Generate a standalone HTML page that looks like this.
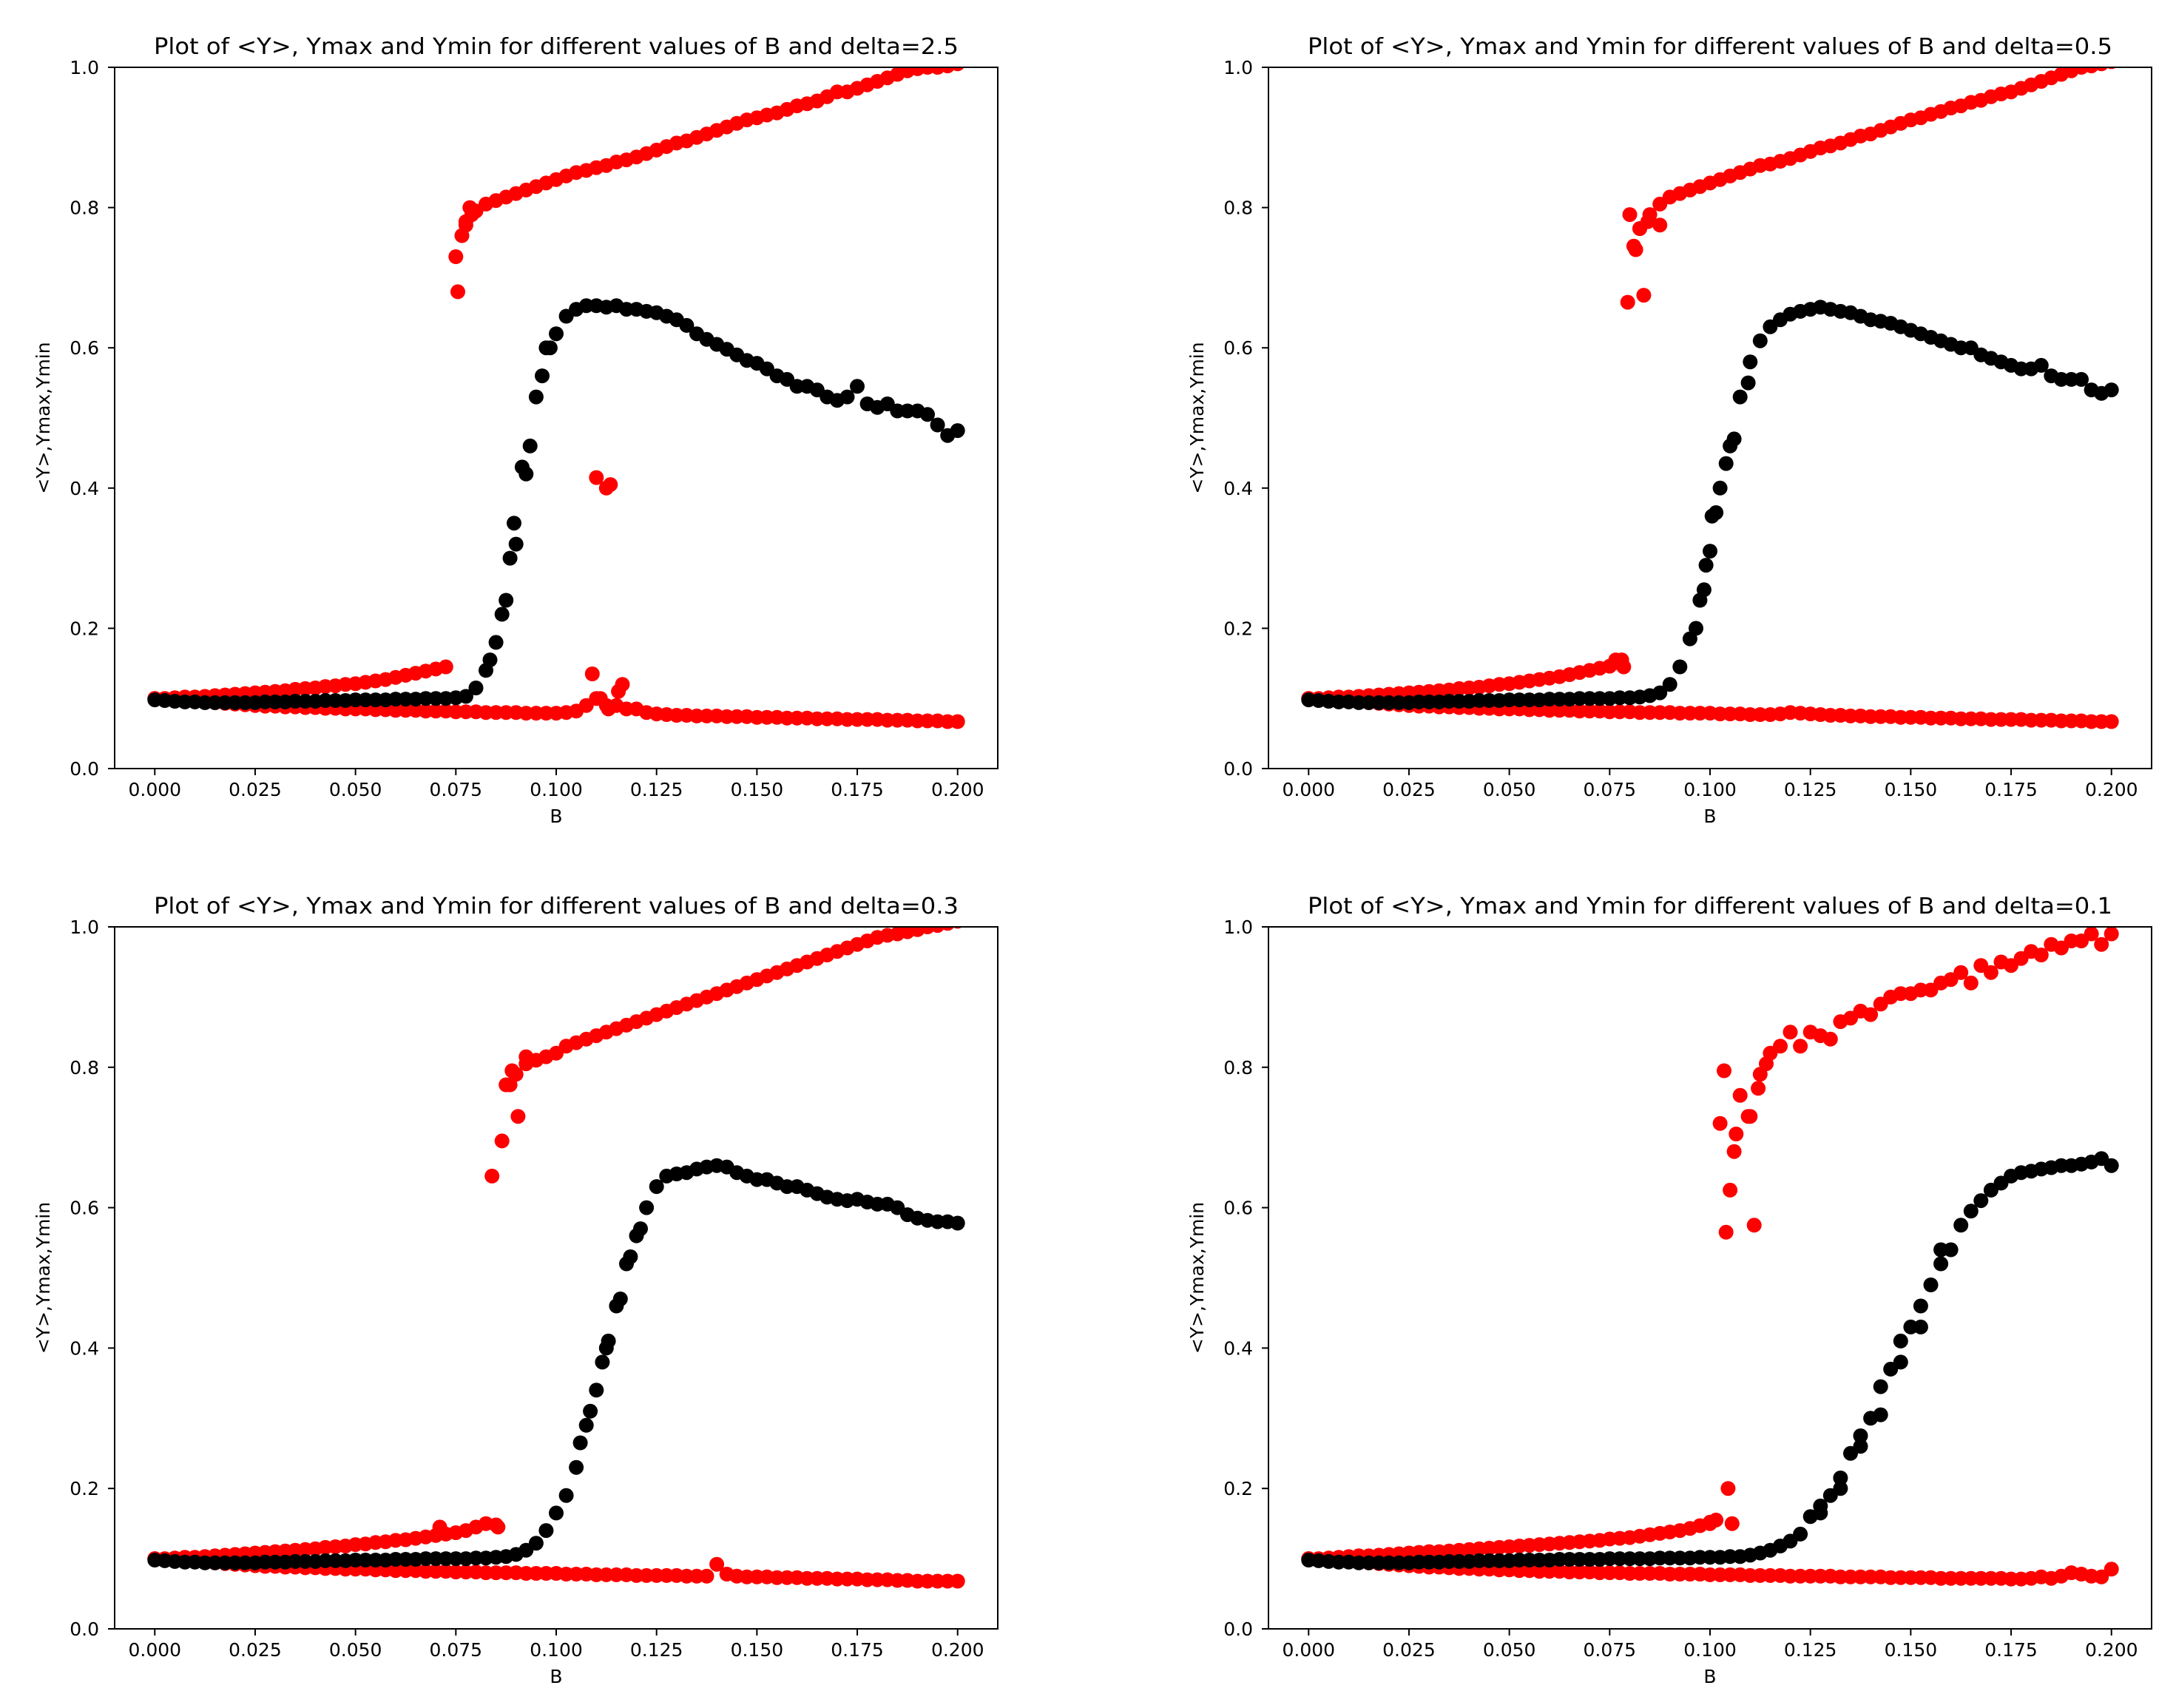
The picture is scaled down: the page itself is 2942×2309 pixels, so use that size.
<!DOCTYPE html>
<html><head><meta charset="utf-8"><style>
html,body{margin:0;padding:0;background:#fff;}
svg{display:block;}
text{font-family:"DejaVu Sans","Liberation Sans",sans-serif;fill:#000;}
</style></head>
<body>
<svg id="fig" width="2942" height="2309" viewBox="0 0 2942 2309" xmlns="http://www.w3.org/2000/svg">
<rect width="2942" height="2309" fill="#fff"/>
</svg>
<script>
// shared B grid (step 0.0025, 81 values)
const B = Array.from({length:81},(_,i)=>+(i*0.0025).toFixed(4));
const xTicks = [0.000,0.025,0.050,0.075,0.100,0.125,0.150,0.175,0.200];
const xTickLabels = ["0.000","0.025","0.050","0.075","0.100","0.125","0.150","0.175","0.200"];
const yTicks = [0.0,0.2,0.4,0.6,0.8,1.0];
const yTickLabels = ["0.0","0.2","0.4","0.6","0.8","1.0"];
const deltas = ["2.5","0.5","0.3","0.1"];

// ---- panel 1: delta=2.5 ----
const p1Ymax = [0.100,0.100,0.101,0.102,0.102,0.103,0.104,0.105,0.106,0.107,
0.108,0.109,0.110,0.111,0.113,0.114,0.115,0.117,0.118,0.120,
0.121,0.123,0.125,0.127,0.130,0.133,0.136,0.139,0.142,0.145,
0.730,0.775,0.795,0.805,0.810,0.815,0.820,0.825,0.830,0.835,
0.840,0.845,0.850,0.853,0.857,0.860,0.865,0.868,0.872,0.877,
0.882,0.887,0.892,0.895,0.900,0.905,0.910,0.915,0.920,0.925,
0.928,0.932,0.935,0.940,0.945,0.948,0.952,0.958,0.965,0.965,
0.970,0.975,0.980,0.985,0.990,0.995,0.998,1.000,1.000,1.002,1.005];
const p1Mean = [0.098,0.097,0.096,0.095,0.095,0.094,0.094,0.094,0.094,0.094,
0.094,0.095,0.095,0.095,0.096,0.096,0.096,0.097,0.097,0.097,
0.098,0.098,0.098,0.098,0.099,0.099,0.099,0.100,0.100,0.100,
0.101,0.103,0.115,0.140,0.180,0.240,0.320,0.420,0.530,0.600,
0.620,0.645,0.655,0.660,0.660,0.658,0.660,0.655,0.655,0.652,
0.650,0.645,0.640,0.632,0.620,0.612,0.605,0.598,0.590,0.582,
0.578,0.570,0.560,0.555,0.545,0.545,0.540,0.530,0.525,0.530,
0.545,0.520,0.515,0.520,0.510,0.510,0.510,0.505,0.490,0.475,0.482];
const p1Ymin = [0.100,0.099,0.098,0.097,0.096,0.095,0.094,0.093,0.092,0.091,
0.090,0.089,0.089,0.088,0.088,0.087,0.087,0.086,0.086,0.085,
0.085,0.085,0.084,0.084,0.083,0.083,0.083,0.082,0.082,0.082,
0.081,0.081,0.081,0.080,0.080,0.080,0.080,0.079,0.079,0.079,
0.079,0.080,0.082,0.090,0.100,0.090,0.090,0.085,0.085,0.080,
0.078,0.077,0.076,0.076,0.075,0.075,0.075,0.074,0.074,0.074,
0.073,0.073,0.073,0.072,0.072,0.072,0.071,0.071,0.071,0.070,
0.070,0.070,0.070,0.069,0.069,0.069,0.068,0.068,0.068,0.067,0.067];
const p1ExtraRedB = [0.0755,0.0765,0.0775,0.0785,0.079,0.110,0.1125,0.1135,0.109,0.1155,0.1165,0.111,0.113];
const p1ExtraRedY = [0.680,0.760,0.780,0.800,0.790,0.415,0.400,0.405,0.135,0.110,0.120,0.100,0.085];
const p1ExtraBlackB = [0.0885,0.0895,0.0915,0.0935,0.0965,0.0985,0.0865,0.0835];
const p1ExtraBlackY = [0.300,0.350,0.430,0.460,0.560,0.600,0.220,0.155];

// ---- panel 2: delta=0.5 ----
const p2Ymax = [0.100,0.100,0.101,0.102,0.102,0.103,0.104,0.105,0.106,0.107,
0.108,0.109,0.110,0.111,0.112,0.114,0.115,0.116,0.118,0.120,
0.121,0.123,0.125,0.127,0.129,0.131,0.134,0.137,0.140,0.143,
0.146,0.150,0.790,0.770,0.790,0.805,0.815,0.820,0.825,0.830,
0.835,0.840,0.845,0.850,0.855,0.860,0.862,0.866,0.870,0.875,
0.880,0.885,0.888,0.892,0.897,0.902,0.905,0.910,0.915,0.920,
0.925,0.928,0.933,0.937,0.942,0.945,0.950,0.953,0.958,0.962,
0.965,0.970,0.975,0.980,0.985,0.990,0.995,1.000,1.002,1.005,1.008];
const p2Mean = [0.098,0.097,0.096,0.095,0.095,0.094,0.094,0.094,0.094,0.094,
0.094,0.095,0.095,0.095,0.096,0.096,0.096,0.097,0.097,0.097,
0.098,0.098,0.098,0.098,0.099,0.099,0.099,0.100,0.100,0.100,
0.100,0.101,0.101,0.102,0.104,0.108,0.120,0.145,0.185,0.240,
0.310,0.400,0.460,0.530,0.580,0.610,0.630,0.640,0.648,0.652,
0.655,0.658,0.655,0.652,0.650,0.645,0.640,0.638,0.635,0.630,
0.625,0.620,0.615,0.610,0.605,0.600,0.600,0.590,0.585,0.580,
0.575,0.570,0.570,0.575,0.560,0.555,0.555,0.555,0.540,0.535,0.540];
const p2Ymin = [0.100,0.099,0.098,0.097,0.096,0.095,0.094,0.093,0.092,0.091,
0.090,0.089,0.089,0.088,0.088,0.087,0.087,0.086,0.086,0.085,
0.085,0.085,0.084,0.084,0.083,0.083,0.083,0.082,0.082,0.082,
0.081,0.081,0.081,0.080,0.080,0.080,0.080,0.079,0.079,0.079,
0.079,0.078,0.078,0.078,0.077,0.077,0.077,0.078,0.080,0.079,
0.078,0.077,0.076,0.076,0.075,0.075,0.074,0.074,0.074,0.073,
0.073,0.073,0.072,0.072,0.072,0.071,0.071,0.071,0.070,0.070,
0.070,0.070,0.069,0.069,0.069,0.068,0.068,0.068,0.067,0.067,0.067];
const p2ExtraRedB = [0.0795,0.081,0.0815,0.0835,0.0825,0.0845,0.0875,0.078,0.0765,0.0785];
const p2ExtraRedY = [0.665,0.745,0.740,0.675,0.770,0.780,0.775,0.155,0.155,0.145];
const p2ExtraBlackB = [0.1005,0.1015,0.104,0.106,0.099,0.0985,0.0965,0.1095];
const p2ExtraBlackY = [0.360,0.365,0.435,0.470,0.290,0.255,0.200,0.550];

// ---- panel 3: delta=0.3 ----
const p3Ymax = [0.100,0.100,0.101,0.102,0.102,0.103,0.104,0.105,0.106,0.107,
0.108,0.109,0.110,0.111,0.112,0.113,0.114,0.116,0.117,0.118,
0.120,0.121,0.123,0.124,0.126,0.127,0.129,0.131,0.133,0.135,
0.137,0.140,0.145,0.150,0.148,0.775,0.790,0.805,0.810,0.815,
0.820,0.830,0.835,0.840,0.845,0.850,0.855,0.860,0.865,0.870,
0.875,0.880,0.885,0.890,0.895,0.900,0.905,0.910,0.915,0.920,
0.925,0.930,0.935,0.940,0.945,0.950,0.955,0.960,0.965,0.970,
0.975,0.980,0.985,0.988,0.990,0.993,0.996,1.000,1.002,1.005,1.008];
const p3Mean = [0.098,0.097,0.096,0.095,0.095,0.094,0.094,0.094,0.094,0.094,
0.094,0.095,0.095,0.095,0.096,0.096,0.096,0.097,0.097,0.097,
0.098,0.098,0.098,0.098,0.099,0.099,0.099,0.100,0.100,0.100,
0.100,0.100,0.101,0.101,0.102,0.103,0.106,0.112,0.122,0.140,
0.165,0.190,0.230,0.290,0.340,0.400,0.460,0.520,0.560,0.600,
0.630,0.645,0.648,0.650,0.655,0.658,0.660,0.658,0.650,0.645,
0.640,0.640,0.635,0.630,0.630,0.625,0.620,0.615,0.612,0.610,
0.612,0.608,0.605,0.605,0.600,0.590,0.585,0.582,0.580,0.580,0.578];
const p3Ymin = [0.100,0.099,0.098,0.097,0.096,0.095,0.094,0.093,0.092,0.091,
0.090,0.089,0.089,0.088,0.088,0.087,0.087,0.086,0.086,0.085,
0.085,0.085,0.084,0.084,0.083,0.083,0.083,0.082,0.082,0.082,
0.081,0.081,0.081,0.080,0.080,0.080,0.080,0.079,0.079,0.079,
0.079,0.078,0.078,0.078,0.077,0.077,0.077,0.077,0.076,0.076,
0.076,0.076,0.076,0.075,0.075,0.075,0.092,0.078,0.075,0.074,
0.074,0.074,0.073,0.073,0.073,0.072,0.072,0.072,0.071,0.071,
0.071,0.070,0.070,0.070,0.069,0.069,0.068,0.068,0.068,0.068,0.068];
const p3ExtraRedB = [0.084,0.0865,0.089,0.0905,0.0925,0.0885,0.071,0.0855];
const p3ExtraRedY = [0.645,0.695,0.795,0.730,0.815,0.775,0.145,0.145];
const p3ExtraBlackB = [0.1115,0.113,0.116,0.1185,0.1085,0.106,0.121];
const p3ExtraBlackY = [0.380,0.410,0.470,0.530,0.310,0.265,0.570];

// ---- panel 4: delta=0.1 ----
const p4Ymax = [0.100,0.100,0.101,0.102,0.103,0.104,0.104,0.105,0.106,0.107,
0.108,0.109,0.110,0.110,0.111,0.112,0.113,0.114,0.115,0.116,
0.117,0.118,0.119,0.120,0.121,0.122,0.123,0.124,0.125,0.126,
0.128,0.129,0.130,0.132,0.134,0.136,0.138,0.140,0.143,0.147,
0.152,0.720,0.625,0.760,0.730,0.790,0.820,0.830,0.850,0.830,
0.850,0.845,0.840,0.865,0.870,0.880,0.875,0.890,0.900,0.905,
0.905,0.910,0.910,0.920,0.925,0.935,0.920,0.945,0.935,0.950,
0.945,0.955,0.965,0.960,0.975,0.970,0.980,0.980,0.990,0.975,0.990];
const p4Mean = [0.098,0.097,0.096,0.095,0.095,0.094,0.094,0.094,0.094,0.094,
0.094,0.095,0.095,0.095,0.096,0.096,0.096,0.097,0.097,0.097,
0.097,0.098,0.098,0.098,0.098,0.099,0.099,0.099,0.099,0.099,
0.100,0.100,0.100,0.100,0.100,0.101,0.101,0.101,0.101,0.102,
0.102,0.102,0.103,0.103,0.105,0.108,0.112,0.118,0.125,0.135,
0.160,0.175,0.190,0.215,0.250,0.275,0.300,0.345,0.370,0.410,
0.430,0.460,0.490,0.520,0.540,0.575,0.595,0.610,0.625,0.635,
0.645,0.650,0.652,0.655,0.657,0.660,0.660,0.662,0.665,0.670,0.660];
const p4Ymin = [0.100,0.099,0.098,0.097,0.096,0.095,0.094,0.093,0.092,0.091,
0.090,0.089,0.088,0.088,0.087,0.086,0.086,0.085,0.085,0.084,
0.084,0.083,0.083,0.082,0.082,0.082,0.081,0.081,0.081,0.080,
0.080,0.080,0.079,0.079,0.079,0.079,0.078,0.078,0.078,0.078,
0.077,0.077,0.077,0.077,0.076,0.076,0.076,0.076,0.075,0.075,
0.075,0.075,0.075,0.074,0.074,0.074,0.074,0.074,0.073,0.073,
0.073,0.073,0.073,0.072,0.072,0.072,0.072,0.072,0.072,0.072,
0.071,0.071,0.072,0.074,0.072,0.075,0.080,0.078,0.075,0.074,0.085];
const p4ExtraRedB = [0.1035,0.104,0.106,0.1065,0.111,0.1095,0.1045,0.1055,0.100,0.112,0.114,0.1015];
const p4ExtraRedY = [0.795,0.565,0.680,0.705,0.575,0.730,0.200,0.150,0.150,0.770,0.805,0.155];
const p4ExtraBlackB = [0.1275,0.1325,0.1375,0.1425,0.1475,0.1525,0.1575];
const p4ExtraBlackY = [0.165,0.200,0.260,0.305,0.380,0.430,0.540];

const panels = [
  {x0:155, x1:1349, y0:91, y1:1039, ymax:p1Ymax, mean:p1Mean, ymin:p1Ymin, erB:p1ExtraRedB, erY:p1ExtraRedY, ebB:p1ExtraBlackB, ebY:p1ExtraBlackY},
  {x0:1715, x1:2909, y0:91, y1:1039, ymax:p2Ymax, mean:p2Mean, ymin:p2Ymin, erB:p2ExtraRedB, erY:p2ExtraRedY, ebB:p2ExtraBlackB, ebY:p2ExtraBlackY},
  {x0:155, x1:1349, y0:1253, y1:2202, ymax:p3Ymax, mean:p3Mean, ymin:p3Ymin, erB:p3ExtraRedB, erY:p3ExtraRedY, ebB:p3ExtraBlackB, ebY:p3ExtraBlackY},
  {x0:1715, x1:2909, y0:1253, y1:2202, ymax:p4Ymax, mean:p4Mean, ymin:p4Ymin, erB:p4ExtraRedB, erY:p4ExtraRedY, ebB:p4ExtraBlackB, ebY:p4ExtraBlackY}
];

const NS = "http://www.w3.org/2000/svg";
const svg = document.getElementById('fig');
function mk(tag, attrs, parent){
  const e = document.createElementNS(NS, tag);
  for (const k in attrs) e.setAttribute(k, attrs[k]);
  parent.appendChild(e);
  return e;
}
const XMIN=-0.01, XMAX=0.21, YMIN=0, YMAX=1;
const R = 10;

panels.forEach((p, pi) => {
  const sx = v => p.x0 + (v - XMIN) / (XMAX - XMIN) * (p.x1 - p.x0);
  const sy = v => p.y1 - (v - YMIN) / (YMAX - YMIN) * (p.y1 - p.y0);
  const g = mk('g', {}, svg);
  
  

  const clipId = 'clip' + pi;
  const defs = mk('defs', {}, g);
  const cp = mk('clipPath', {id: clipId}, defs);
  mk('rect', {x:p.x0, y:p.y0, width:p.x1-p.x0, height:p.y1-p.y0}, cp);

  const marks = mk('g', {'clip-path':'url(#'+clipId+')'}, g);
  
  

  function series(xs, ys, color, name){
    const sg = mk('g', {fill: color}, marks);
    
    
    ys.forEach((v, i) => {
      if (v === null || xs[i] === undefined) return;
      const c = mk('circle', {cx: sx(xs[i]).toFixed(1), cy: sy(v).toFixed(1), r: R}, sg);
      
      
    });
  }
  series(B, p.ymax, '#ff0000', 'ymax-series');
  series(B, p.ymin, '#ff0000', 'ymin-series');
  series(p.erB, p.erY, '#ff0000', 'extra-red-points');
  series(B, p.mean, '#000000', 'mean-y-series');
  series(p.ebB, p.ebY, '#000000', 'extra-mean-points');

  const frame = mk('rect', {x:p.x0, y:p.y0, width:p.x1-p.x0, height:p.y1-p.y0, fill:'none', stroke:'#000', 'stroke-width':2}, g);
  
  

  xTicks.forEach((t, i) => {
    const x = sx(t);
    const tk = mk('line', {x1:x, x2:x, y1:p.y1, y2:p.y1+9, stroke:'#000', 'stroke-width':2}, g);
    
    
    const tx = mk('text', {x:x, y:p.y1+37, 'font-size':25, 'text-anchor':'middle'}, g);
    tx.textContent = xTickLabels[i];
    
    
  });
  yTicks.forEach((t, i) => {
    const y = sy(t);
    const tk = mk('line', {x1:p.x0-9, x2:p.x0, y1:y, y2:y, stroke:'#000', 'stroke-width':2}, g);
    
    
    const tx = mk('text', {x:p.x0-21, y:y+9, 'font-size':25, 'text-anchor':'end'}, g);
    tx.textContent = yTickLabels[i];
    
    
  });
  const xl = mk('text', {x:(p.x0+p.x1)/2, y:p.y1+73, 'font-size':25, 'text-anchor':'middle'}, g);
  xl.textContent = 'B';
  
  
  const ymid = (p.y0+p.y1)/2;
  const yl = mk('text', {x:p.x0-88, y:ymid, 'font-size':25, 'text-anchor':'middle', transform:'rotate(-90 '+(p.x0-88)+' '+ymid+')'}, g);
  yl.textContent = '<Y>,Ymax,Ymin';
  
  
  const tt = mk('text', {x:(p.x0+p.x1)/2, y:p.y0-18, 'font-size':30, 'text-anchor':'middle', textLength:1088, lengthAdjust:'spacingAndGlyphs'}, g);
  tt.textContent = 'Plot of <Y>, Ymax and Ymin for different values of B and delta=' + deltas[pi];
  
  
});
</script>
</body></html>
